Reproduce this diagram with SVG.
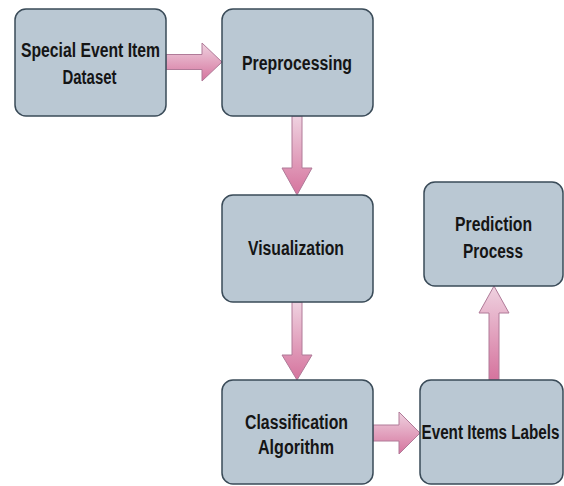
<svg xmlns="http://www.w3.org/2000/svg" width="564" height="486" viewBox="0 0 564 486">
  <defs>
    <linearGradient id="pink" x1="0" y1="0" x2="0" y2="1">
      <stop offset="0" stop-color="#efd2e0"/>
      <stop offset="1" stop-color="#d5739d"/>
    </linearGradient>
    <style>
      .box { fill: #bac8d3; stroke: #3a4b58; stroke-width: 1.5; }
      .arrow { fill: url(#pink); stroke: #b07a98; stroke-width: 1; }
      .lbl { font-family: "Liberation Sans", Arial, sans-serif; font-weight: bold; font-size: 20px; fill: #151515; text-anchor: middle; }
    </style>
  </defs>
  <rect width="564" height="486" fill="#ffffff"/>

  <g id="connectors">
    <polygon class="arrow" points="166,54.5 202,54.5 202,43 222,62 202,81 202,69.5 166,69.5"/>
    <polygon class="arrow" points="292,116 302,116 302,168 312,168 297,195 282,168 292,168"/>
    <polygon class="arrow" points="292,302 302,302 302,355 312,355 297,380 282,355 292,355"/>
    <polygon class="arrow" points="373,425 399,425 399,412 420,433 399,454 399,441 373,441"/>
    <polygon class="arrow" points="489,380 499,380 499,313 509,313 494,286 479,313 489,313"/>
  </g>

  <g id="dataset">
    <rect class="box" x="15" y="9" width="151" height="107" rx="11"/>
    <text class="lbl" x="90.5" y="57" textLength="139" lengthAdjust="spacingAndGlyphs">Special Event Item</text>
    <text class="lbl" x="89.5" y="84" textLength="54" lengthAdjust="spacingAndGlyphs">Dataset</text>
  </g>

  <g id="preprocessing">
    <rect class="box" x="222" y="9" width="151" height="107" rx="11"/>
    <text class="lbl" x="297" y="70" textLength="110" lengthAdjust="spacingAndGlyphs">Preprocessing</text>
  </g>

  <g id="visualization">
    <rect class="box" x="222" y="195" width="151" height="107" rx="11"/>
    <text class="lbl" x="296" y="255" textLength="96" lengthAdjust="spacingAndGlyphs">Visualization</text>
  </g>

  <g id="classification">
    <rect class="box" x="222" y="380" width="151" height="104" rx="11"/>
    <text class="lbl" x="296.5" y="429" textLength="103" lengthAdjust="spacingAndGlyphs">Classification</text>
    <text class="lbl" x="296" y="454" textLength="76" lengthAdjust="spacingAndGlyphs">Algorithm</text>
  </g>

  <g id="labels">
    <rect class="box" x="420" y="380" width="143" height="104" rx="11"/>
    <text class="lbl" x="490.5" y="439" textLength="138" lengthAdjust="spacingAndGlyphs">Event Items Labels</text>
  </g>

  <g id="prediction">
    <rect class="box" x="424" y="182" width="139" height="104" rx="11"/>
    <text class="lbl" x="493.5" y="231" textLength="77" lengthAdjust="spacingAndGlyphs">Prediction</text>
    <text class="lbl" x="493" y="258" textLength="60" lengthAdjust="spacingAndGlyphs">Process</text>
  </g>
</svg>
